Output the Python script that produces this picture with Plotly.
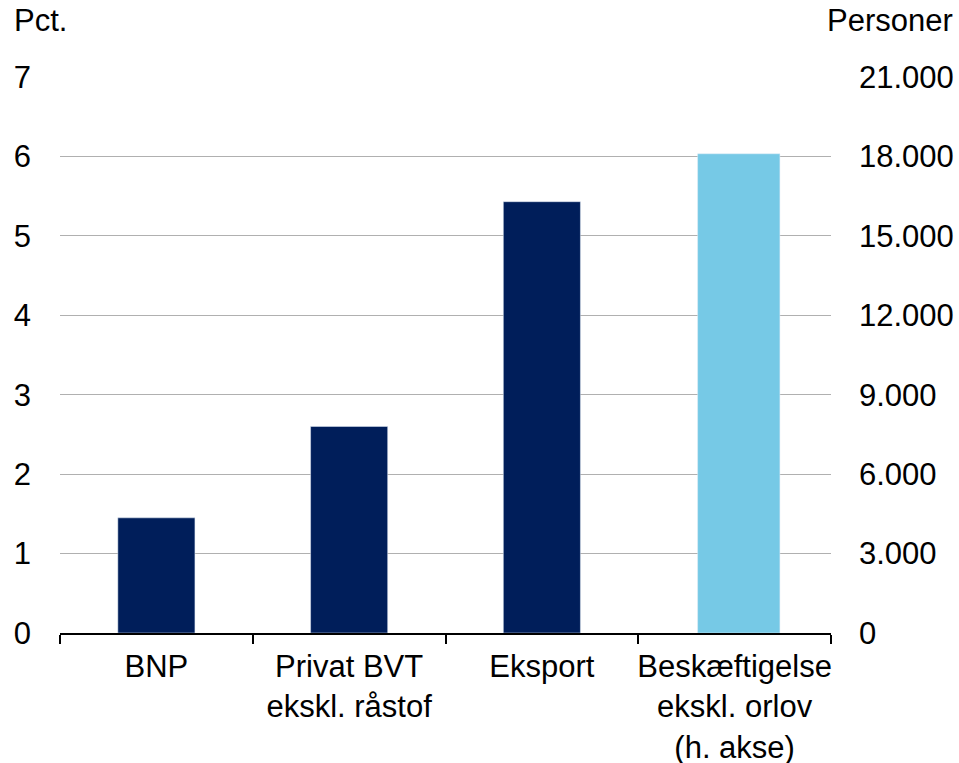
import plotly.graph_objects as go

categories = ["BNP", "Privat BVT<br>ekskl. råstof", "Eksport", "Beskæftigelse<br>ekskl. orlov<br>(h. akse)"]
pct_values = [1.45, 2.6, 5.43]          # left axis, Pct.
persons_value = [18100]                 # right axis, Personer
left_ticks = [0, 1, 2, 3, 4, 5, 6, 7]
right_ticks = [0, 3000, 6000, 9000, 12000, 15000, 18000, 21000]

FONT = "Liberation Sans, Arial, sans-serif"
W, H = 959, 763
L, R, T, B = 60, 128, 77, 130
pw, ph = W - L - R, H - T - B
FS = 31

fig = go.Figure()
fig.add_trace(go.Bar(x=categories[:3], y=pct_values, marker_color="#001E5A",
                     width=0.40, yaxis="y", showlegend=False))
fig.add_trace(go.Bar(x=categories[3:], y=persons_value, marker_color="#76C9E6",
                     width=0.427, offset=-0.192, yaxis="y2", showlegend=False))

fig.update_layout(
    width=W, height=H,
    margin=dict(l=L, r=R, t=T, b=B),
    plot_bgcolor="white", paper_bgcolor="white",
    separators=",.",
    barmode="overlay",
    font=dict(family=FONT, size=FS, color="black"),
    xaxis=dict(
        categoryorder="array", categoryarray=categories,
        showline=True, linecolor="black", linewidth=1.5,
        ticks="outside", tickson="boundaries", ticklen=9, tickcolor="black", tickwidth=1.5,
        showgrid=False, tickfont=dict(size=FS), ticklabelstandoff=5,
        tickangle=0, automargin=False,
    ),
    yaxis=dict(
        range=[0, 7], tickvals=left_ticks, showgrid=True, gridcolor="#b0b0b0", gridwidth=1,
        zeroline=False, showline=False, ticks="", tickfont=dict(size=FS),
        ticklabelstandoff=28, automargin=False,
    ),
    yaxis2=dict(
        range=[0, 21000], tickvals=right_ticks, tickformat=",d", overlaying="y", side="right",
        showgrid=False, zeroline=False, showline=False, ticks="", tickfont=dict(size=FS),
        ticklabelstandoff=27, automargin=False,
    ),
)

fig.add_annotation(text="Pct.", xref="paper", yref="paper",
                   x=(12 - L) / pw, y=(H - B - 21) / ph, xanchor="left", yanchor="middle",
                   showarrow=False, font=dict(size=FS))
fig.add_annotation(text="Personer", xref="paper", yref="paper",
                   x=(955 - L) / pw, y=(H - B - 21) / ph, xanchor="right", yanchor="middle",
                   showarrow=False, font=dict(size=FS))

fig.write_html("out.html", config={"displayModeBar": False},
               post_script="document.body.style.margin='0';document.body.style.overflow='hidden';")
